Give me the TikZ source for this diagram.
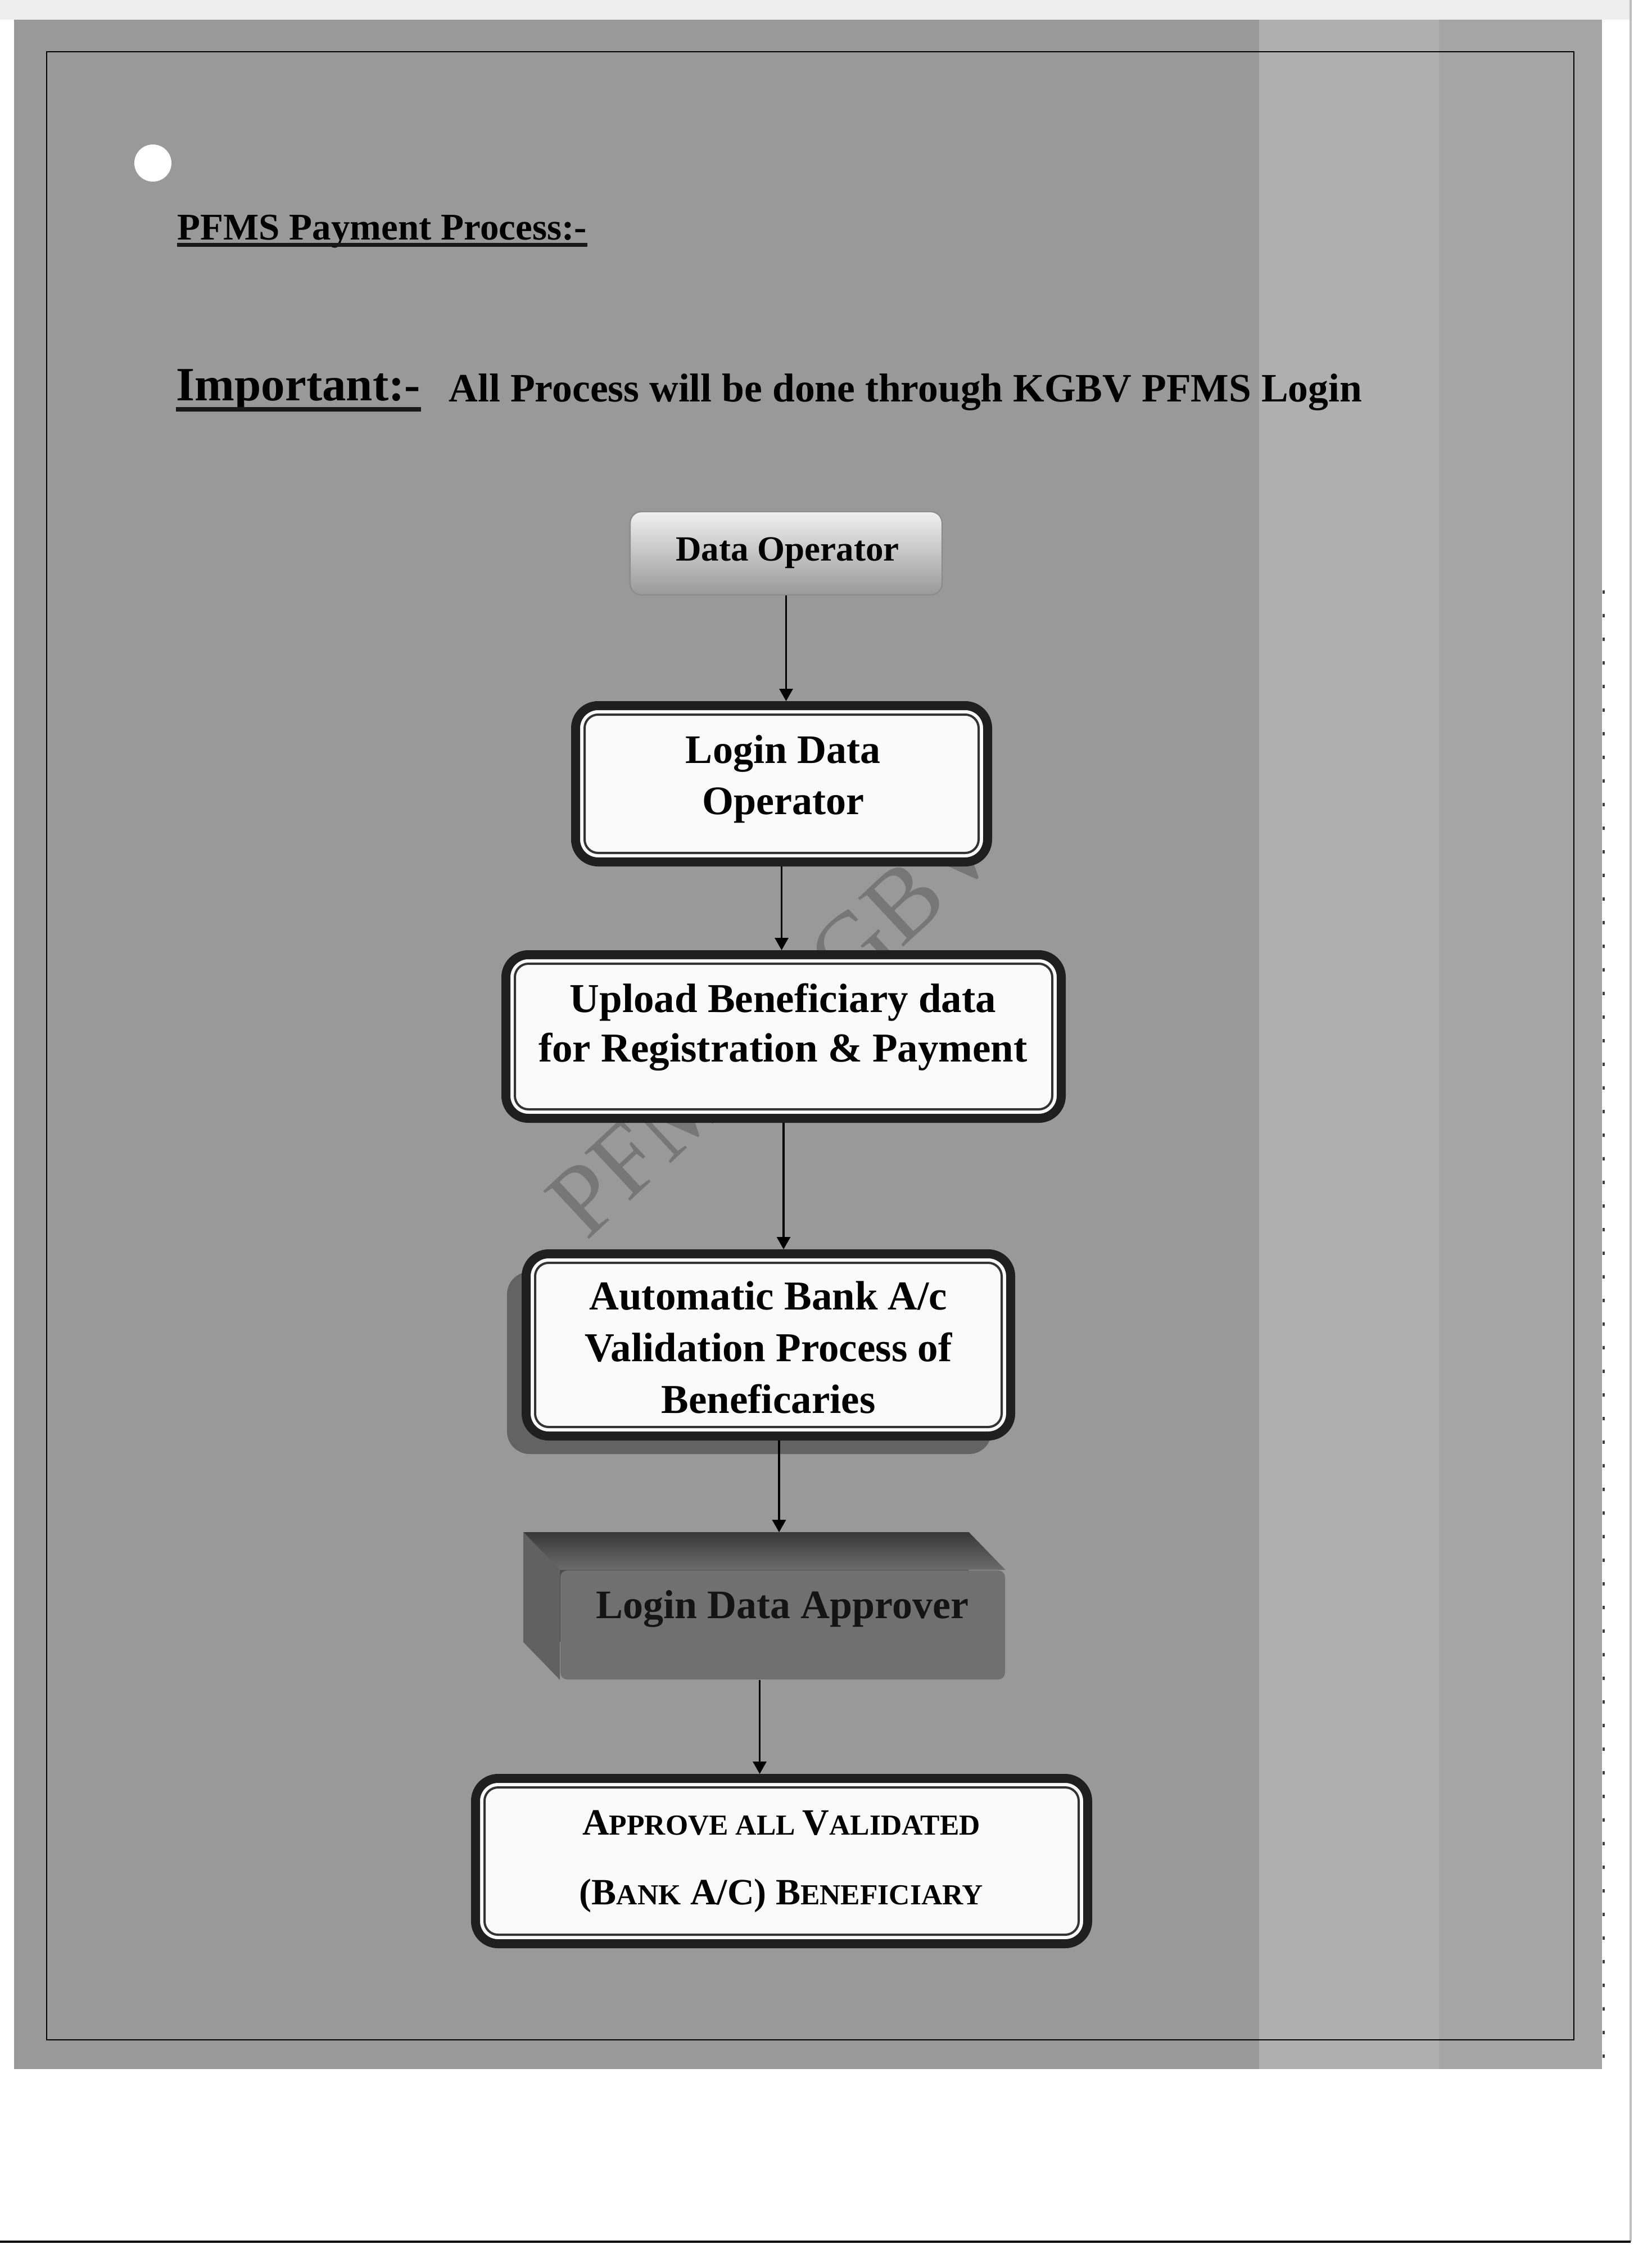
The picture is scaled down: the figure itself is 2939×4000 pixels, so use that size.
\documentclass[tikz,border=0pt]{standalone}
\usepackage{fontspec}
\setmainfont{Liberation Serif}
\usetikzlibrary{arrows.meta,calc,shadows}
\newcommand\smc[1]{{\fontsize{12.9pt}{12.9pt}\selectfont #1}}
\begin{document}
\begin{tikzpicture}[x=0.25pt,y=-0.25pt,inner sep=0pt,
  frame/.style={draw=black!88, line width=4pt, fill=black!2, rounded corners=10pt},
  innerframe/.style={draw=black!80, line width=1pt, rounded corners=6pt},
  arr/.style={draw=black, line width=0.8pt, -{Triangle[length=5.5pt,width=6pt]}},
  uline/.style={draw=black!90},
]
\useasboundingbox (0,0) rectangle (2939,4000);
% paper and scan background
\fill[white] (0,0) rectangle (2939,4000);
\fill[black!7] (0,0) rectangle (2901,35);
\fill[black!40] (25,35) rectangle (2850,3680);
\shade[left color=white, right color=white, middle color=white, opacity=.22] (2240,35) rectangle (2560,3680);
\fill[white,opacity=.12] (2560,35) rectangle (2850,3680);
\draw[black!25, line width=0.8pt] (2901,0) -- (2901,3987);
\draw[black, line width=1pt] (0,3987) -- (2901,3987);
\draw[black!75, line width=1.2pt, dash pattern=on 1.5pt off 9pt] (2853,1050) -- (2853,3660);
\draw[black, line width=0.6pt] (83,92) rectangle (2800,3628);
\fill[white] (272,290) circle[radius=8.25pt];

% headings
\node[anchor=base west, font=\bfseries\fontsize{16.75pt}{20pt}\selectfont] (title) at (315,427) {PFMS Payment Process:-};
\draw[uline, line width=1.75pt] ([yshift=-2.25pt]title.base west) -- ([yshift=-2.25pt]title.base east);
\node[anchor=base west, font=\bfseries\fontsize{21.25pt}{25pt}\selectfont] (imp) at (313,713) {Important:-};
\draw[uline, line width=2pt] ([yshift=-3.75pt]imp.base west) -- ([yshift=-3.75pt]imp.base east);
\node[anchor=base west, font=\bfseries\fontsize{17.9pt}{21pt}\selectfont] (note) at (798,715) {All Process will be done through KGBV PFMS Login};

% watermark
\node[rotate=43, font=\fontsize{45pt}{45pt}\selectfont, text=black, opacity=.22] (wm) at (1375,1820) {PFMS KGBV};

% box 1
\node[draw=black!45, line width=0.6pt, rounded corners=5pt, top color=black!6, bottom color=black!40,
      minimum width=138.75pt, minimum height=37pt] (b1) at (1398.5,984) {};
\node[anchor=base, font=\bfseries\fontsize{15.75pt}{18pt}\selectfont] (t1) at (1401,997) {Data Operator};

% box 2
\node[frame, minimum width=183.25pt, minimum height=69.5pt] (b2) at (1390.5,1394) {};
\draw[innerframe] ([shift={(24,-24)}]b2.south west) rectangle ([shift={(-24,24)}]b2.north east);
\node[anchor=base, font=\bfseries\fontsize{18pt}{22.75pt}\selectfont] (t2) at (1393,1357)
  {\begin{tabular}[t]{@{}c@{}}Login Data\\Operator\end{tabular}};

% box 3
\node[frame, minimum width=247pt, minimum height=72.75pt] (b3) at (1394,1843.5) {};
\draw[innerframe] ([shift={(24,-24)}]b3.south west) rectangle ([shift={(-24,24)}]b3.north east);
\node[anchor=base, font=\bfseries\fontsize{18.25pt}{22pt}\selectfont] (t3) at (1393,1800)
  {\begin{tabular}[t]{@{}c@{}}Upload Beneficiary data\\for Registration \& Payment\end{tabular}};

% box 4
\node[frame, minimum width=215.5pt, minimum height=81pt,
      drop shadow={shadow xshift=-8.5pt, shadow yshift=-8pt, fill=black!75, opacity=.6}] (b4) at (1367,2392) {};
\draw[innerframe] ([shift={(24,-24)}]b4.south west) rectangle ([shift={(-24,24)}]b4.north east);
\node[anchor=base, font=\bfseries\fontsize{18.25pt}{23pt}\selectfont] (t4) at (1367,2329)
  {\begin{tabular}[t]{@{}c@{}}Automatic Bank A/c\\Validation Process of\\Beneficaries\end{tabular}};

% box 5 (3D block)
\node[fill=black!70, minimum width=197.75pt, minimum height=48.5pt, rounded corners=3pt] (b5back) at (1327.5,2823) {};
\shade[top color=black!78, bottom color=black!58]
  (b5back.north west) -- (b5back.north east) -- ($(b5back.north east)+(65,67)$) -- ($(b5back.north west)+(65,67)$) -- cycle;
\fill[black!62]
  (b5back.north west) -- ($(b5back.north west)+(65,67)$) -- ($(b5back.south west)+(65,67)$) -- (b5back.south west) -- cycle;
\node[fill=black!56, minimum width=197.75pt, minimum height=48.5pt, rounded corners=3pt] (b5) at ($(b5back)+(65,67)$) {};
\node[anchor=base, font=\bfseries\fontsize{18pt}{22pt}\selectfont, text=black!92] (t5) at (1392,2878) {Login Data Approver};

% box 6
\node[frame, minimum width=272.25pt, minimum height=73.5pt] (b6) at (1390.5,3310) {};
\draw[innerframe] ([shift={(24,-24)}]b6.south west) rectangle ([shift={(-24,24)}]b6.north east);
\node[anchor=base, font=\bfseries\fontsize{16.5pt}{31pt}\selectfont] (t6) at (1390,3263)
  {\begin{tabular}[t]{@{}c@{}}A\smc{PPROVE ALL }V\smc{ALIDATED}\\(B\smc{ANK} A/C) B\smc{ENEFICIARY}\end{tabular}};

% connectors
\draw[arr] (b1.south) -- (b1.south |- b2.north);
\draw[arr] (b2.south) -- (b2.south |- b3.north);
\draw[arr] (b3.south) -- (b3.south |- b4.north);
\coordinate (a4) at ($(b4.south)+(19,0)$);
\draw[arr] (a4) -- (a4 |- b5back.north);
\coordinate (a5) at ($(b5.south)+(-41,0)$);
\draw[arr] (a5) -- (a5 |- b6.north);
\end{tikzpicture}
\end{document}
